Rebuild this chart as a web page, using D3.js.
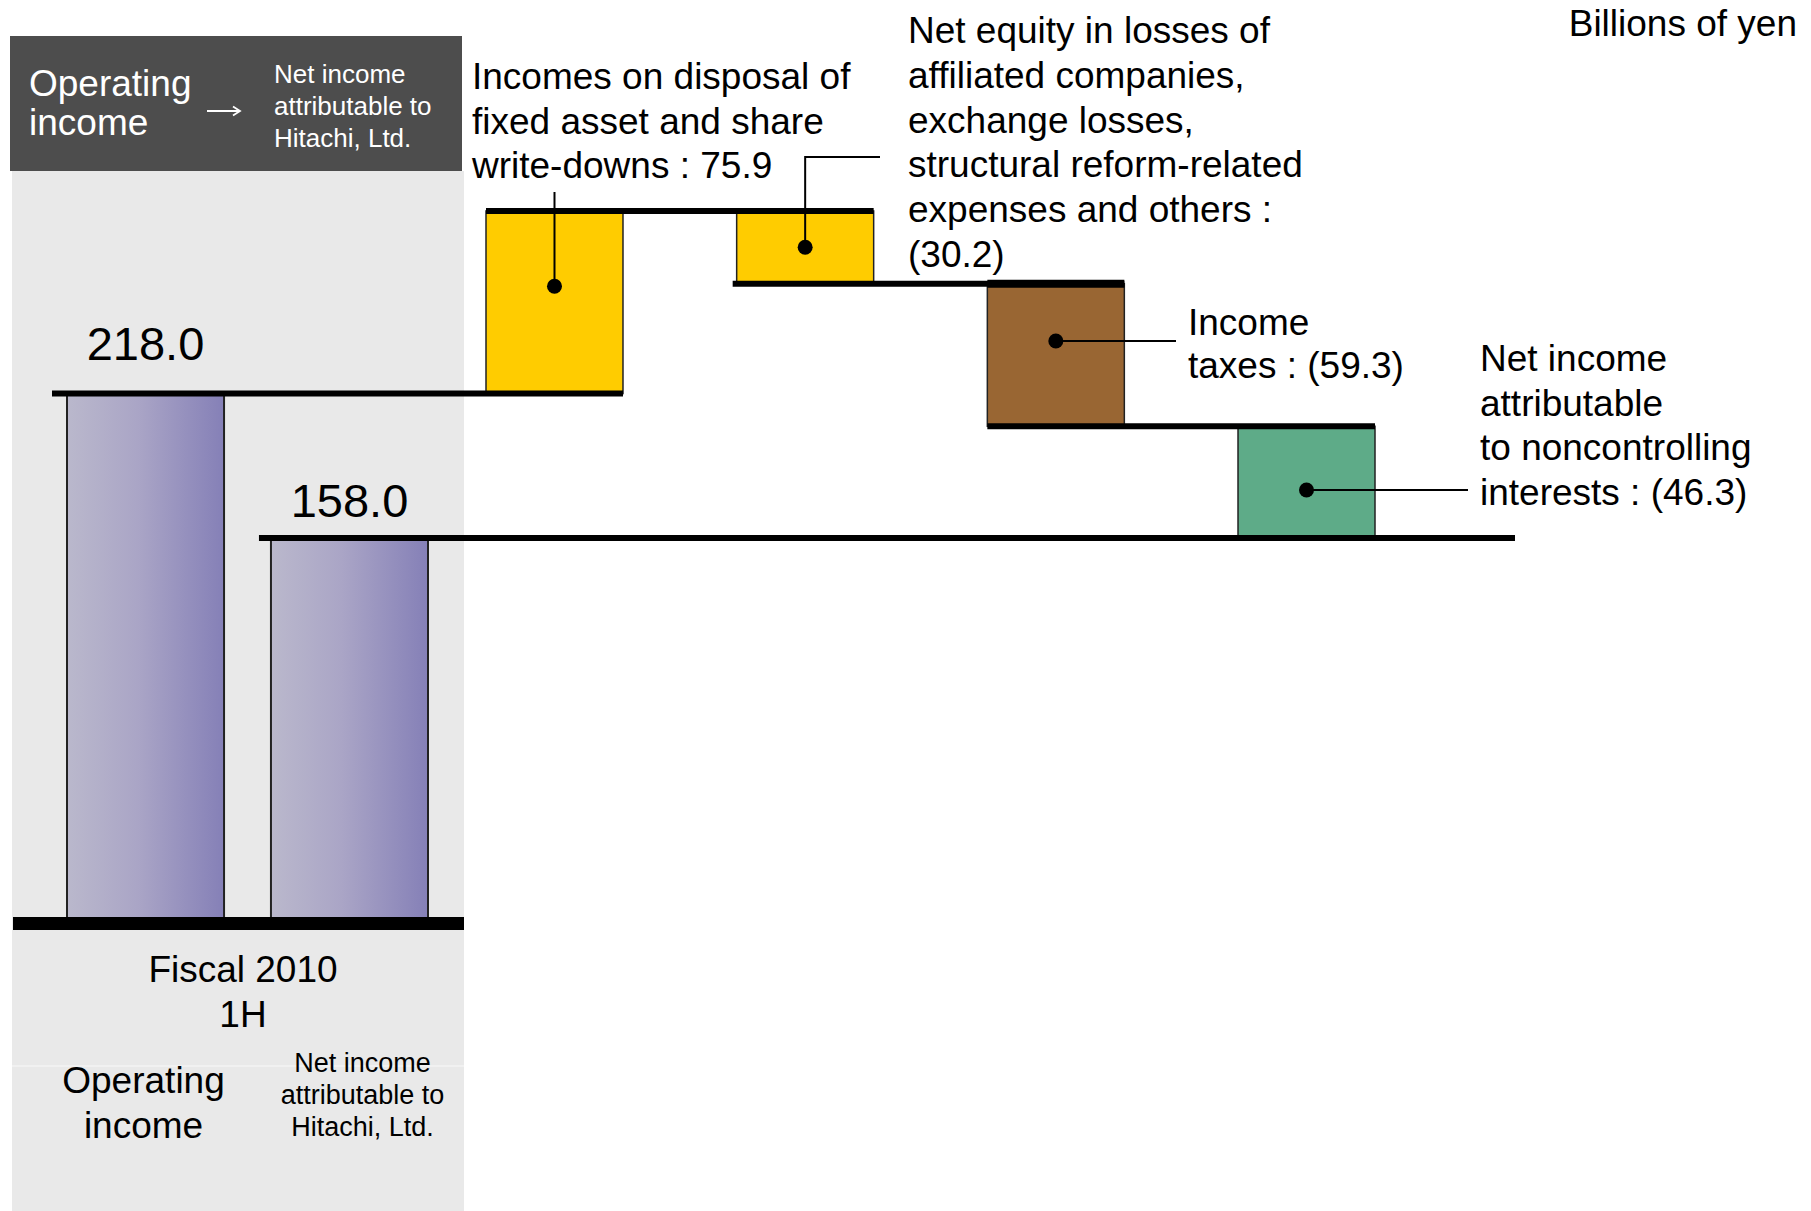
<!DOCTYPE html>
<html><head><meta charset="utf-8">
<script src="https://cdn.jsdelivr.net/npm/d3@7"></script>
<style>
body{margin:0;background:#fff;}
svg{display:block;font-family:"Liberation Sans",Arial,Helvetica,sans-serif;}
</style>
</head><body>
<svg id="chart" width="1811" height="1211"></svg>
<script>
// ---------------- data ----------------
const unitLabel = "Billions of yen";
const headerFrom = ["Operating", "income"];
const headerTo = ["Net income", "attributable to", "Hitachi, Ltd."];
const periodLabel = ["Fiscal 2010", "1H"];
const barCategories = ["Operating income", "Net income attributable to Hitachi, Ltd."];
const barLabelLines = [["Operating", "income"], ["Net income", "attributable to", "Hitachi, Ltd."]];
const barValues = [218.0, 158.0];
const stepCategories = [
  "Incomes on disposal of fixed asset and share write-downs",
  "Net equity in losses of affiliated companies, exchange losses, structural reform-related expenses and others",
  "Income taxes",
  "Net income attributable to noncontrolling interests"
];
const stepValues = [75.9, -30.2, -59.3, -46.3];
const stepColors = ["#ffcc00", "#ffcc00", "#996633", "#5eab88"];
const stepLabelLines = [
  ["Incomes on disposal of", "fixed asset and share", "write-downs : {v}"],
  ["Net equity in losses of", "affiliated companies,", "exchange losses,", "structural reform-related", "expenses and others :", "{v}"],
  ["Income", "taxes : {v}"],
  ["Net income", "attributable", "to noncontrolling", "interests : {v}"]
];

// ---------------- layout ----------------
const svg = d3.select("#chart");
const W = 1811, H = 1211;
const fmt = v => v < 0 ? "(" + d3.format(".1f")(-v) + ")" : d3.format(".1f")(v);

const y = d3.scaleLinear().domain([0, 300]).range([918, 196.3]);
const xBar = d3.scaleBand().domain(barCategories).range([67, 428]).paddingInner(0.23).paddingOuter(0);
const xStep = d3.scaleBand().domain(stepCategories).range([486, 1375]).paddingInner(0.4535).paddingOuter(0);
const bwB = xBar.bandwidth(), bwS = xStep.bandwidth();

// cumulative steps
let run = barValues[0];
const steps = stepCategories.map((c, i) => {
  const start = run; run = run + stepValues[i];
  return {cat: c, v: stepValues[i], start, end: run, color: stepColors[i], lines: stepLabelLines[i], i};
});

// defs: gradient
const defs = svg.append("defs");
const grad = defs.append("linearGradient").attr("id", "barGrad").attr("x1", "0%").attr("x2", "100%").attr("y1", "0%").attr("y2", "0%");
grad.append("stop").attr("offset", "0%").attr("stop-color", "#bab8cc");
grad.append("stop").attr("offset", "45%").attr("stop-color", "#aaa5c6");
grad.append("stop").attr("offset", "100%").attr("stop-color", "#8580b7");

// left panel
svg.append("rect").attr("x", 12).attr("y", 171).attr("width", 452).attr("height", H - 171).attr("fill", "#e9e9e9");
svg.append("rect").attr("x", 10).attr("y", 36).attr("width", 452).attr("height", 135).attr("fill", "#4d4d4d");
svg.append("line").attr("x1", 12).attr("x2", 464).attr("y1", 1066).attr("y2", 1066).attr("stroke", "#fafafa").attr("stroke-width", 1.2);

// header text
const hdr = svg.append("g").attr("fill", "#fff");
hdr.append("text").attr("font-size", 37).selectAll("tspan").data(headerFrom).join("tspan")
  .attr("x", 29).attr("y", (d, i) => 96 + i * 39).text(d => d);
hdr.append("text").attr("font-size", 26).selectAll("tspan").data(headerTo).join("tspan")
  .attr("x", 274).attr("y", (d, i) => 83 + i * 32).text(d => d);
hdr.append("path").attr("d", "M207,111H240M233,106.5L240,111L233,115.5")
  .attr("stroke", "#fff").attr("stroke-width", 1.8).attr("fill", "none");

// unit label
svg.append("text").attr("x", 1797).attr("y", 36).attr("text-anchor", "end").attr("font-size", 37).text(unitLabel);

// bars
svg.append("g").selectAll("rect").data(barCategories).join("rect")
  .attr("x", d => xBar(d)).attr("width", bwB)
  .attr("y", (d, i) => y(barValues[i])).attr("height", (d, i) => y(0) - y(barValues[i]))
  .attr("fill", "url(#barGrad)").attr("stroke", "#222").attr("stroke-width", 2);

// step boxes
svg.append("g").selectAll("rect").data(steps).join("rect")
  .attr("x", d => xStep(d.cat)).attr("width", bwS)
  .attr("y", d => y(Math.max(d.start, d.end))).attr("height", d => Math.abs(y(d.start) - y(d.end)))
  .attr("fill", d => d.color).attr("stroke", "#222").attr("stroke-width", 1.5);

// connector lines
const conn = [];
conn.push({v: barValues[0], x1: xBar(barCategories[0]) - 15, x2: xStep(steps[0].cat) + bwS, w: 6});
steps.forEach((s, i) => {
  if (i < steps.length - 1) conn.push({v: s.end, x1: xStep(s.cat) - (i === 1 ? 4 : 0), x2: xStep(steps[i + 1].cat) + bwS, w: 6});
});
conn.push({v: barValues[1], x1: xBar(barCategories[1]) - 12, x2: xStep(steps[steps.length - 1].cat) + bwS + 140, w: 6});
svg.append("g").selectAll("line").data(conn).join("line")
  .attr("x1", d => d.x1).attr("x2", d => d.x2).attr("y1", d => y(d.v)).attr("y2", d => y(d.v))
  .attr("stroke", "#000").attr("stroke-width", d => d.w);
// thicker cap on the top edge of the descending brown box
svg.append("line").attr("x1", xStep(steps[2].cat)).attr("x2", xStep(steps[2].cat) + bwS)
  .attr("y1", y(steps[2].start)).attr("y2", y(steps[2].start)).attr("stroke", "#000").attr("stroke-width", 8);

// baseline
svg.append("rect").attr("x", 13).attr("y", y(0) - 1).attr("width", 451).attr("height", 13).attr("fill", "#000");

// bar value labels
const valOffset = [34, 21];
svg.append("g").selectAll("text").data(barCategories).join("text")
  .attr("x", d => xBar(d) + bwB / 2).attr("y", (d, i) => y(barValues[i]) - valOffset[i])
  .attr("text-anchor", "middle").attr("font-size", 47).text((d, i) => d3.format(".1f")(barValues[i]));

// period label
svg.append("text").attr("font-size", 37).attr("text-anchor", "middle")
  .selectAll("tspan").data(periodLabel).join("tspan")
  .attr("x", 243).attr("y", (d, i) => 982 + i * 45).text(d => d);

// category labels
svg.append("text").attr("font-size", 37).attr("text-anchor", "middle")
  .selectAll("tspan").data(barLabelLines[0]).join("tspan")
  .attr("x", xBar(barCategories[0]) + bwB / 2 - 2).attr("y", (d, i) => 1093 + i * 45).text(d => d);
svg.append("text").attr("font-size", 27).attr("text-anchor", "middle")
  .selectAll("tspan").data(barLabelLines[1]).join("tspan")
  .attr("x", xBar(barCategories[1]) + bwB / 2 + 13).attr("y", (d, i) => 1072 + i * 32).text(d => d);

// step annotations
const annot = [
  {x: 472, y0: 89, lh: 44.5, dotDy: -16},
  {x: 908, y0: 43, lh: 44.8, dotDy: 0},
  {x: 1188, y0: 335, lh: 43, dotDy: -14},
  {x: 1480, y0: 371, lh: 44.7, dotDy: 8}
];
const ag = svg.append("g");
steps.forEach((s, i) => {
  const a = annot[i];
  ag.append("text").attr("font-size", 37).selectAll("tspan").data(s.lines).join("tspan")
    .attr("x", a.x).attr("y", (d, k) => a.y0 + k * a.lh).text(d => d.replace("{v}", fmt(s.v)));
  const cx = xStep(s.cat) + bwS / 2;
  const cy = (y(s.start) + y(s.end)) / 2 + a.dotDy;
  let p;
  if (i === 0) p = `M${cx},${cy}V${a.y0 + 2 * a.lh + 14}`;
  else if (i === 1) p = `M${cx},${cy}V157H${a.x - 28}`;
  else p = `M${cx},${cy}H${a.x - 12}`;
  ag.append("path").attr("d", p).attr("fill", "none").attr("stroke", "#000").attr("stroke-width", 2);
  ag.append("circle").attr("cx", cx).attr("cy", cy).attr("r", 7.5).attr("fill", "#000");
});
</script>
</body></html>
